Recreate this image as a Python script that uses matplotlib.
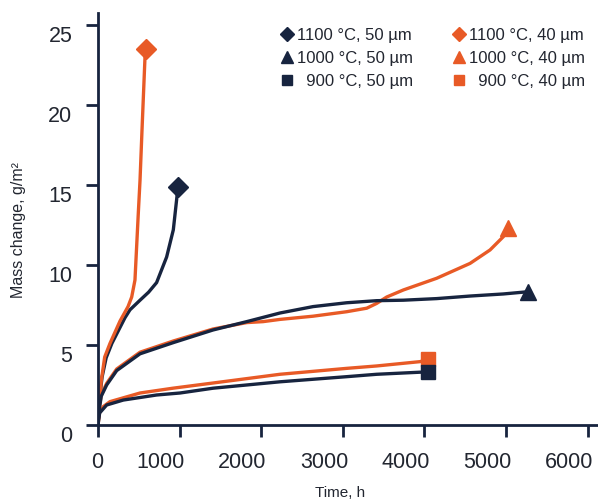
import matplotlib
matplotlib.use("Agg")
import matplotlib.pyplot as plt
from matplotlib.transforms import ScaledTranslation

plt.rcParams['font.family'] = ['Liberation Sans', 'DejaVu Sans']

DARK = '#17243f'
ORANGE = '#e85a26'
TEXT = '#222630'

# 1100 °C, 40 µm
t_1100_40 = [0, 20, 41, 82, 147, 270, 368, 413, 453, 473, 494, 515, 539, 576, 588]
m_1100_40 = [0, 1.6, 2.8, 4.25, 5.1, 6.5, 7.4, 8.0, 9.06, 11.1, 13.25, 15.3, 18.4, 23.0, 23.5]
# 1100 °C, 50 µm
t_1100_50 = [0, 20, 50, 100, 170, 250, 330, 392, 515, 620, 718, 841, 923, 963, 980]
m_1100_50 = [0, 1.7, 3.0, 4.2, 5.1, 5.9, 6.7, 7.2, 7.8, 8.3, 8.9, 10.5, 12.2, 14.06, 14.9]
# 1000 °C, 50 µm
t_1000_50 = [0, 10, 40, 106, 229, 515, 923, 1410, 1822, 2230, 2635, 3047, 3415, 3742, 4150, 4559, 4967, 5270]
m_1000_50 = [0, 0.8, 1.8, 2.5, 3.4, 4.45, 5.15, 5.94, 6.46, 7.0, 7.4, 7.64, 7.77, 7.8, 7.9, 8.06, 8.19, 8.33]
# 1000 °C, 40 µm
t_1000_40 = [0, 10, 40, 106, 229, 515, 923, 1410, 1822, 2022, 2230, 2635, 3047, 3293, 3415, 3538, 3742, 4150, 4559, 4804, 4967, 5025]
m_1000_40 = [0, 0.9, 1.9, 2.6, 3.5, 4.55, 5.25, 6.0, 6.4, 6.46, 6.6, 6.8, 7.08, 7.3, 7.6, 8.0, 8.44, 9.17, 10.1, 10.94, 11.77, 12.3]
# 900 °C, 50 µm
t_900_50 = [0, 20, 106, 310, 718, 1005, 1410, 2230, 3047, 3415, 3946, 4044]
m_900_50 = [0, 0.75, 1.25, 1.56, 1.875, 2.0, 2.3, 2.7, 3.02, 3.17, 3.3, 3.3]
# 900 °C, 40 µm
t_900_40 = [0, 20, 65, 147, 515, 918, 1373, 2230, 3047, 3415, 3946, 4044]
m_900_40 = [0, 0.8, 1.15, 1.46, 2.0, 2.3, 2.6, 3.17, 3.54, 3.69, 3.96, 4.1]

x_ticks = [0, 1000, 2000, 3000, 4000, 5000, 6000]
y_ticks = [0, 5, 10, 15, 20, 25]

series = [
    (t_1000_40, m_1000_40, ORANGE, '^', '1000 °C, 40 µm'),
    (t_900_40, m_900_40, ORANGE, 's', '  900 °C, 40 µm'),
    (t_1100_50, m_1100_50, DARK, 'D', '1100 °C, 50 µm'),
    (t_1100_40, m_1100_40, ORANGE, 'D', '1100 °C, 40 µm'),
    (t_1000_50, m_1000_50, DARK, '^', '1000 °C, 50 µm'),
    (t_900_50, m_900_50, DARK, 's', '  900 °C, 50 µm'),
]
msizes = {'D': 10, '^': 11, 's': 10}

fig = plt.figure(figsize=(5.98, 5.04), dpi=100)
ax = fig.add_axes([98/598, (504-425)/504, 500/598, (425-13)/504])

handles = {}
for t, m, c, mk, lab in series:
    ax.plot(t, m, color=c, lw=2.4, solid_capstyle='round', solid_joinstyle='round', zorder=2)
    h, = ax.plot([t[-1]], [m[-1]], marker=mk, color=c, ms=msizes[mk], ls='none', zorder=3, label=lab)
    handles[lab] = h

order = ['1100 °C, 50 µm', '1000 °C, 50 µm', '  900 °C, 50 µm',
         '1100 °C, 40 µm', '1000 °C, 40 µm', '  900 °C, 40 µm']
leg = ax.legend([handles[k] for k in order], order, ncol=2, loc='upper right',
                bbox_to_anchor=(0.995, 0.988), frameon=False, fontsize=12,
                handlelength=0.7, handletextpad=0.25, columnspacing=2.4,
                labelspacing=0.47, markerscale=0.75, borderaxespad=0.2)
for txt in leg.get_texts():
    txt.set_color(TEXT)

ax.set_xlim(0, 6127)
ax.set_ylim(0, 25.75)
ax.set_xticks(x_ticks)
ax.set_yticks(y_ticks)
for s in ['top', 'right']:
    ax.spines[s].set_visible(False)
for s in ['left', 'bottom']:
    ax.spines[s].set_color(DARK)
    ax.spines[s].set_linewidth(2)
ax.tick_params(axis='both', direction='out', length=8.5, width=2, color=DARK,
               labelsize=15.5, labelcolor=TEXT)
ax.tick_params(axis='x', pad=11)
ax.tick_params(axis='y', pad=10)

for lab in ax.get_xticklabels():
    lab.set_ha('right')
    lab.set_transform(lab.get_transform() + ScaledTranslation(0.055, 0, fig.dpi_scale_trans))
for lab in ax.get_yticklabels():
    lab.set_transform(lab.get_transform() + ScaledTranslation(0, -0.09, fig.dpi_scale_trans))

ax.set_xlabel('Time, h', fontsize=11, color=TEXT)
ax.xaxis.set_label_coords(242/500, -61/412)
ax.set_ylabel('Mass change, g/m²', fontsize=11.5, color=TEXT)
ax.yaxis.set_label_coords(-72/500, 195/412)

fig.savefig('out.png', dpi=100)
